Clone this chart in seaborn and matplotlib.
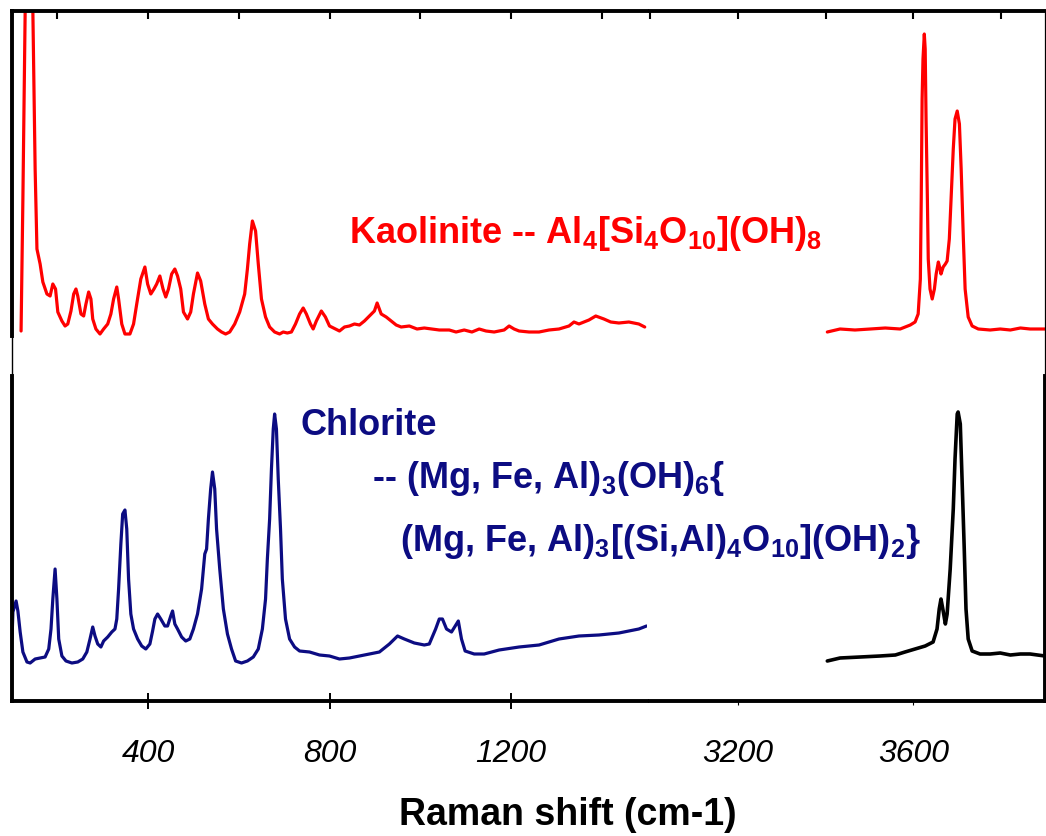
import numpy as np
import pandas as pd
import matplotlib
matplotlib.use("Agg")
import matplotlib.pyplot as plt
import seaborn as sns

# ---------------- data (arbitrary intensity units) ----------------
kao_low_shift = [120, 124, 129, 135, 146, 151, 155, 162, 168, 177, 184, 190, 196, 201, 210, 217, 223, 230,
                 236, 241, 245, 252, 258, 263, 269, 274, 278, 285, 294, 302, 311, 318, 324, 331, 335, 342,
                 349, 360, 368, 375, 384, 393, 399, 406, 413, 419, 426, 433, 439, 445, 452, 459, 465, 472,
                 478, 487, 494, 500, 509, 516, 525, 533, 542, 553, 562, 571, 580, 591, 602, 613, 619, 624,
                 630, 637, 643, 650, 659, 668, 679, 690, 698, 707, 716, 725, 734, 742, 749, 758, 764, 771,
                 782, 791, 800, 813, 822, 833, 844, 855, 866, 877, 888, 899, 905, 914, 925, 936, 947, 958,
                 976, 993, 1009, 1026, 1042, 1064, 1079, 1097, 1114, 1130, 1145, 1163, 1185, 1196, 1207,
                 1218, 1240, 1262, 1284, 1306, 1328, 1339, 1350, 1372, 1387, 1405, 1420, 1438, 1460, 1482, 1495]
kao_low_int = [45, 177, 365, 577, 365, 207, 127, 112, 94, 82, 80, 92, 87, 64, 55, 50, 52, 65,
               82, 87, 80, 62, 60, 72, 84, 77, 57, 47, 42, 47, 52, 62, 77, 89, 77, 52,
               42, 42, 52, 72, 97, 109, 92, 82, 87, 92, 100, 87, 79, 87, 102, 107, 100, 87,
               64, 57, 64, 82, 103, 95, 72, 57, 52, 47, 44, 42, 44, 52, 64, 82, 107, 132,
               155, 145, 112, 77, 59, 49, 44, 42, 44, 43, 44, 52, 62, 68, 62, 52, 47, 55,
               65, 59, 50, 47, 45, 49, 50, 52, 51, 55, 60, 65, 73, 62, 59, 55, 51, 49,
               50, 47, 48, 47, 46, 46, 44, 46, 44, 47, 45, 44, 46, 50, 47,
               45, 44, 44, 46, 47, 50, 54, 52, 56, 60, 57, 54, 53, 54, 52, 49]

kao_high_shift = [3404, 3433, 3467, 3502, 3536, 3570, 3593, 3604, 3611, 3616, 3618, 3620, 3622, 3625, 3627,
                  3629, 3632, 3634, 3638, 3643, 3648, 3652, 3657, 3661, 3663, 3668, 3673, 3677, 3682, 3686,
                  3691, 3695, 3700, 3705, 3709, 3714, 3718, 3725, 3734, 3748, 3775, 3798, 3821, 3844, 3866, 3900]
kao_high_int = [44, 47, 46, 47, 48, 47, 51, 54, 62, 97, 177, 277, 317, 342, 327,
                257, 177, 117, 87, 77, 87, 102, 114, 107, 102, 109, 112, 115, 137, 177,
                227, 257, 265, 252, 207, 137, 87, 59, 50, 47, 46, 47, 46, 48, 47, 47]

chl_low_shift = [100, 102, 109, 113, 118, 124, 133, 140, 151, 162, 173, 181, 186, 190, 195, 199, 203, 210,
                 219, 232, 245, 256, 265, 272, 278, 283, 289, 296, 302, 311, 320, 327, 331, 335, 340, 344,
                 349, 353, 357, 362, 368, 377, 386, 395, 404, 410, 415, 421, 428, 437, 443, 450, 454, 459,
                 465, 474, 483, 492, 500, 509, 518, 525, 529, 533, 538, 542, 547, 551, 558, 566, 575, 584,
                 593, 606, 619, 632, 643, 652, 659, 663, 668, 672, 676, 679, 683, 687, 692, 696, 703, 712,
                 723, 734, 756, 778, 800, 822, 844, 866, 888, 910, 932, 950, 965, 987, 1009, 1020, 1034,
                 1042, 1049, 1058, 1069, 1084, 1091, 1099, 1119, 1141, 1174, 1218, 1262, 1306, 1350, 1394,
                 1438, 1482, 1499]
chl_low_int = [62, 89, 100, 90, 69, 49, 39, 38, 42, 43, 44, 52, 72, 102, 132, 102, 62, 45,
               40, 38, 39, 42, 49, 62, 74, 65, 57, 54, 60, 64, 69, 72, 82, 112, 157, 187,
               191, 172, 122, 87, 72, 62, 55, 52, 57, 70, 82, 87, 82, 75, 75, 85, 90, 77,
               72, 64, 60, 62, 72, 87, 112, 147, 152, 182, 212, 229, 212, 172, 132, 92, 67, 52,
               40, 38, 40, 44, 52, 72, 102, 142, 182, 232, 272, 287, 272, 222, 172, 122, 82, 62,
               54, 50, 49, 46, 45, 42, 43, 45, 47, 49, 57, 65, 62, 58, 56, 57, 72,
               82, 82, 72, 69, 80, 62, 50, 47, 47, 51, 54, 56, 62, 65, 66,
               68, 72, 75]

chl_high_shift = [3404, 3433, 3479, 3524, 3559, 3581, 3604, 3627, 3645, 3654, 3659, 3663, 3668, 3673, 3677,
                  3684, 3691, 3695, 3700, 3702, 3707, 3711, 3716, 3720, 3725, 3734, 3752, 3775, 3798, 3821,
                  3844, 3866, 3900]
chl_high_int = [40, 43, 44, 45, 46, 49, 52, 55, 59, 72, 92, 102, 90, 77, 87,
                132, 192, 242, 287, 289, 277, 222, 152, 92, 62, 50, 47, 47, 48, 46,
                47, 47, 45]

low_ticks_top = [200, 400, 600, 800, 1000, 1200, 1400]
high_ticks_top = [3000, 3200, 3400, 3600, 3800]
low_ticks_bottom = [400, 800, 1200]
high_ticks_bottom = [3200, 3600]

kao_label = "Kaolinite -- Al$_4$[Si$_4$O$_{10}$](OH)$_8$"
chl_label1 = "Chlorite"
chl_label2 = "-- (Mg, Fe, Al)$_3$(OH)$_6${"
chl_label3 = "(Mg, Fe, Al)$_3$[(Si,Al)$_4$O$_{10}$](OH)$_2$}"
x_label = "Raman shift (cm-1)"

# ---------------- style ----------------
sns.set_style("white")
plt.rcParams["font.family"] = ["Liberation Sans", "DejaVu Sans"]
plt.rcParams["mathtext.default"] = "regular"
plt.rcParams["xtick.color"] = "black"
plt.rcParams["xtick.labelcolor"] = "black"
plt.rcParams["text.color"] = "black"

W, H = 1046, 837
fig = plt.figure(figsize=(W / 100, H / 100), dpi=100)


def fx(px):
    return px / W


def fy(py):
    return 1 - py / H


RED = "#ff0000"
NAVY = "#0c0c82"
LW_SPINE = 2.8

x0L, x1L = 12, 647
x0R, x1R = 650, 1045
yT, yM, yB = 12, 377, 702

ax_tl = fig.add_axes([fx(x0L), fy(yM), fx(x1L - x0L), (yM - yT) / H])
ax_tr = fig.add_axes([fx(x0R), fy(yM), fx(x1R - x0R), (yM - yT) / H])
ax_bl = fig.add_axes([fx(x0L), fy(yB), fx(x1L - x0L), (yB - yM) / H])
ax_br = fig.add_axes([fx(x0R), fy(yB), fx(x1R - x0R), (yB - yM) / H])

kao_low = pd.DataFrame({"shift": kao_low_shift, "I": kao_low_int})
kao_high = pd.DataFrame({"shift": kao_high_shift, "I": kao_high_int})
chl_low = pd.DataFrame({"shift": chl_low_shift, "I": chl_low_int})
chl_high = pd.DataFrame({"shift": chl_high_shift, "I": chl_high_int})

sns.lineplot(data=kao_low, x="shift", y="I", ax=ax_tl, color=RED, lw=2.3, sort=False)
sns.lineplot(data=kao_high, x="shift", y="I", ax=ax_tr, color=RED, lw=2.3, sort=False)
sns.lineplot(data=chl_low, x="shift", y="I", ax=ax_bl, color=NAVY, lw=2.3, sort=False)
sns.lineplot(data=chl_high, x="shift", y="I", ax=ax_br, color="black", lw=2.6, sort=False)

for ax in (ax_tl, ax_bl):
    ax.set_xlim(100, 1500)
for ax in (ax_tr, ax_br):
    ax.set_xlim(3000, 3900)
ax_tl.set_ylim(0, 365)
ax_tr.set_ylim(0, 365)
ax_bl.set_ylim(0, 325)
ax_br.set_ylim(0, 325)

for ax in (ax_tl, ax_tr, ax_bl, ax_br):
    ax.set_xlabel("")
    ax.set_ylabel("")
    ax.set_yticks([])
    ax.patch.set_alpha(0)
    for s in ax.spines.values():
        s.set_visible(False)
        s.set_color("black")

# top row: top spine with inward ticks
for ax, ticks in ((ax_tl, low_ticks_top), (ax_tr, high_ticks_top)):
    ax.spines["top"].set_visible(True)
    ax.spines["top"].set_linewidth(LW_SPINE)
    ax.xaxis.set_ticks_position("top")
    ax.set_xticks(ticks)
    ax.tick_params(axis="x", which="both", direction="in", length=6, width=1.5, color="black",
                   top=True, bottom=False, labeltop=False, labelbottom=False)

ax_tl.spines["left"].set_visible(True)
ax_tl.spines["left"].set_linewidth(LW_SPINE)
ax_tl.spines["left"].set_bounds(40, 365)
ax_tl.plot([0, 0], [0, 40 / 365], transform=ax_tl.transAxes, color="black", lw=1.0, clip_on=False)
ax_tr.spines["right"].set_visible(True)
ax_tr.spines["right"].set_linewidth(0.9)

# bottom row
for ax in (ax_bl, ax_br):
    ax.spines["bottom"].set_visible(True)
    ax.spines["bottom"].set_linewidth(LW_SPINE)
ax_bl.spines["left"].set_visible(True)
ax_bl.spines["left"].set_linewidth(LW_SPINE)
ax_br.spines["right"].set_visible(True)
ax_br.spines["right"].set_linewidth(LW_SPINE)

ax_bl.set_xticks(low_ticks_bottom)
ax_bl.set_xticklabels([str(t) for t in low_ticks_bottom])
ax_bl.tick_params(axis="x", direction="inout", length=11, width=1.4, pad=21, color="black",
                  labelcolor="black", labelsize=23, bottom=True, top=False)
ax_br.set_xticks(high_ticks_bottom)
ax_br.set_xticklabels([str(t) for t in high_ticks_bottom])
ax_br.tick_params(axis="x", direction="out", length=3, width=0.8, pad=23.5, color="black",
                  labelcolor="black", labelsize=23, bottom=True, top=False)
for lab in ax_bl.get_xticklabels() + ax_br.get_xticklabels():
    lab.set_fontstyle("italic")

# texts
fig.text(fx(349), fy(243), kao_label, color=RED, fontsize=26, fontweight="bold", va="baseline", ha="left")
fig.text(fx(301), fy(435), chl_label1, color=NAVY, fontsize=26, fontweight="bold", va="baseline", ha="left")
fig.text(fx(372), fy(488), chl_label2, color=NAVY, fontsize=26, fontweight="bold", va="baseline", ha="left")
fig.text(fx(400), fy(551), chl_label3, color=NAVY, fontsize=26, fontweight="bold", va="baseline", ha="left")
fig.text(fx(568), fy(825), x_label, color="black", fontsize=27, fontweight="bold", va="baseline", ha="center")

fig.savefig("out.png", dpi=100, facecolor="white")
